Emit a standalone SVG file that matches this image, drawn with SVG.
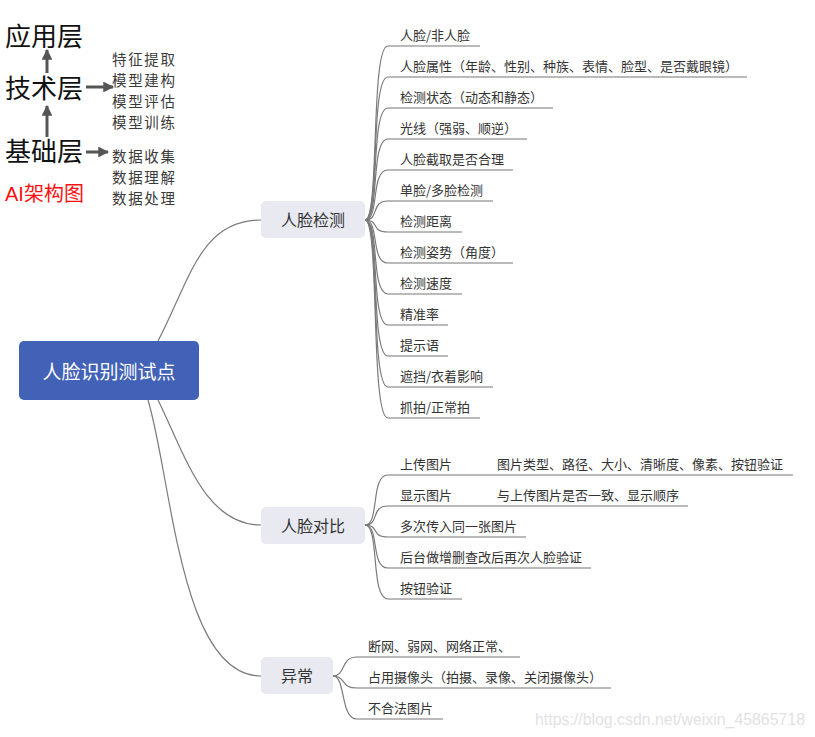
<svg xmlns="http://www.w3.org/2000/svg" width="815" height="737" viewBox="0 0 815 737">
<defs>
<marker id="ah" viewBox="0 0 10 10" refX="9" refY="5" markerWidth="3.6" markerHeight="3.6" orient="auto" markerUnits="strokeWidth">
<path d="M0,0 L10,5 L0,10 z" fill="#555"/>
</marker>
<style>
.t{font-family:"Noto Sans CJK SC","Liberation Sans",sans-serif;}
.big{font-size:26px;fill:#111;}
.lst{font-size:14.5px;fill:#3a3a3a;}
.c{font-size:13px;fill:#333;}
.b{font-size:16px;fill:#333;}
.ul{stroke:#777;stroke-width:1.2;fill:none;}
.cn{stroke:#7a7a7a;stroke-width:1.2;fill:none;}
.arr{stroke:#555;stroke-width:3;fill:none;marker-end:url(#ah);}
.bn{fill:#E8E9F1;}
</style>
</defs>
<rect width="815" height="737" fill="#fff"/>

<g id="legend">
<text class="t big" x="5" y="46">应用层</text>
<text class="t big" x="5" y="98">技术层</text>
<text class="t big" x="5" y="161">基础层</text>
<text x="5" y="201" font-family="Liberation Sans, Noto Sans CJK SC, sans-serif" font-size="20" fill="#FF1010">AI<tspan font-family="Noto Sans CJK SC, sans-serif">架构图</tspan></text>
<line class="arr" x1="47" y1="73" x2="47" y2="50"/>
<line class="arr" x1="47" y1="137" x2="47" y2="106"/>
<line class="arr" x1="86" y1="87" x2="113" y2="87"/>
<line class="arr" x1="86" y1="152" x2="108" y2="152"/>
<text class="t lst" x="112" y="65" textLength="63">特征提取</text>
<text class="t lst" x="112" y="86" textLength="63">模型建构</text>
<text class="t lst" x="112" y="107" textLength="63">模型评估</text>
<text class="t lst" x="112" y="128" textLength="63">模型训练</text>
<text class="t lst" x="112" y="162" textLength="63">数据收集</text>
<text class="t lst" x="112" y="183" textLength="63">数据理解</text>
<text class="t lst" x="112" y="204" textLength="63">数据处理</text>
</g>

<g id="connectors">
<path class="cn" d="M158,341 C190,280 200,220 261,220"/>
<path class="cn" d="M158,400 C185,455 205,525 261,525"/>
<path class="cn" d="M148,400 C172,480 180,676 261,676"/>
<path class="cn" d="M365,220 C380,220 370,46 388,46"/>
<path class="cn" d="M365,220 C380,220 370,77 388,77"/>
<path class="cn" d="M365,220 C380,220 370,108 388,108"/>
<path class="cn" d="M365,220 C380,220 370,139 388,139"/>
<path class="cn" d="M365,220 C380,220 370,170 388,170"/>
<path class="cn" d="M365,220 C380,220 370,201 388,201"/>
<path class="cn" d="M365,220 C380,220 370,232 388,232"/>
<path class="cn" d="M365,220 C380,220 370,263 388,263"/>
<path class="cn" d="M365,220 C380,220 370,294 388,294"/>
<path class="cn" d="M365,220 C380,220 370,325 388,325"/>
<path class="cn" d="M365,220 C380,220 370,356 388,356"/>
<path class="cn" d="M365,220 C380,220 370,387 388,387"/>
<path class="cn" d="M365,220 C380,220 370,418 388,418"/>
<path class="cn" d="M365,525 C380,525 370,475 388,475"/>
<path class="cn" d="M365,525 C380,525 370,506 388,506"/>
<path class="cn" d="M365,525 C380,525 370,537 388,537"/>
<path class="cn" d="M365,525 C380,525 370,568 388,568"/>
<path class="cn" d="M365,525 C380,525 370,599 388,599"/>
<path class="cn" d="M333,676 C346,676 340,657 357,657"/>
<path class="cn" d="M333,676 C346,676 340,688 357,688"/>
<path class="cn" d="M333,676 C346,676 340,719 357,719"/>
</g>

<g id="root">
<rect x="19" y="341" width="180" height="59" rx="5" fill="#4262B7"/>
<text class="t" x="109" y="379" font-size="19" fill="#fff" text-anchor="middle">人脸识别测试点</text>
</g>

<g id="n-detect">
<rect class="bn" x="261" y="201" width="104" height="37" rx="5"/>
<text class="t b" x="313" y="226" text-anchor="middle">人脸检测</text>
</g>
<g id="n-compare">
<rect class="bn" x="261" y="507" width="104" height="37" rx="5"/>
<text class="t b" x="313" y="532" text-anchor="middle">人脸对比</text>
</g>
<g id="n-abnormal">
<rect class="bn" x="261" y="657" width="72" height="37" rx="5"/>
<text class="t b" x="297" y="682" text-anchor="middle">异常</text>
</g>

<g id="d1"><line class="ul" x1="388" y1="46" x2="480" y2="46"/><text class="t c" x="400" y="40">人脸/非人脸</text></g>
<g id="d2"><line class="ul" x1="388" y1="77" x2="747" y2="77"/><text class="t c" x="400" y="71">人脸属性（年龄、性别、种族、表情、脸型、是否戴眼镜）</text></g>
<g id="d3"><line class="ul" x1="388" y1="108" x2="553" y2="108"/><text class="t c" x="400" y="102">检测状态（动态和静态）</text></g>
<g id="d4"><line class="ul" x1="388" y1="139" x2="527" y2="139"/><text class="t c" x="400" y="133">光线（强弱、顺逆）</text></g>
<g id="d5"><line class="ul" x1="388" y1="170" x2="513" y2="170"/><text class="t c" x="400" y="164">人脸截取是否合理</text></g>
<g id="d6"><line class="ul" x1="388" y1="201" x2="493" y2="201"/><text class="t c" x="400" y="195">单脸/多脸检测</text></g>
<g id="d7"><line class="ul" x1="388" y1="232" x2="462" y2="232"/><text class="t c" x="400" y="226">检测距离</text></g>
<g id="d8"><line class="ul" x1="388" y1="263" x2="513" y2="263"/><text class="t c" x="400" y="257">检测姿势（角度）</text></g>
<g id="d9"><line class="ul" x1="388" y1="294" x2="462" y2="294"/><text class="t c" x="400" y="288">检测速度</text></g>
<g id="d10"><line class="ul" x1="388" y1="325" x2="448" y2="325"/><text class="t c" x="400" y="319">精准率</text></g>
<g id="d11"><line class="ul" x1="388" y1="356" x2="448" y2="356"/><text class="t c" x="400" y="350">提示语</text></g>
<g id="d12"><line class="ul" x1="388" y1="387" x2="493" y2="387"/><text class="t c" x="400" y="381">遮挡/衣着影响</text></g>
<g id="d13"><line class="ul" x1="388" y1="418" x2="480" y2="418"/><text class="t c" x="400" y="412">抓拍/正常拍</text></g>

<g id="c1"><line class="ul" x1="388" y1="475" x2="793" y2="475"/><text class="t c" x="400" y="469">上传图片</text><text class="t c" x="497" y="469">图片类型、路径、大小、清晰度、像素、按钮验证</text></g>
<g id="c2"><line class="ul" x1="388" y1="506" x2="688" y2="506"/><text class="t c" x="400" y="500">显示图片</text><text class="t c" x="497" y="500">与上传图片是否一致、显示顺序</text></g>
<g id="c3"><line class="ul" x1="388" y1="537" x2="526" y2="537"/><text class="t c" x="400" y="531">多次传入同一张图片</text></g>
<g id="c4"><line class="ul" x1="388" y1="568" x2="591" y2="568"/><text class="t c" x="400" y="562">后台做增删查改后再次人脸验证</text></g>
<g id="c5"><line class="ul" x1="388" y1="599" x2="462" y2="599"/><text class="t c" x="400" y="593">按钮验证</text></g>

<g id="a1"><line class="ul" x1="357" y1="657" x2="520" y2="657"/><text class="t c" x="368" y="651">断网、弱网、网络正常、</text></g>
<g id="a2"><line class="ul" x1="357" y1="688" x2="611" y2="688"/><text class="t c" x="368" y="682">占用摄像头（拍摄、录像、关闭摄像头）</text></g>
<g id="a3"><line class="ul" x1="357" y1="719" x2="443" y2="719"/><text class="t c" x="368" y="713">不合法图片</text></g>

<text x="535" y="725" font-family="Liberation Sans, sans-serif" font-size="16" fill="#e2e2e2" textLength="270" lengthAdjust="spacingAndGlyphs">https://blog.csdn.net/weixin_45865718</text>
</svg>
